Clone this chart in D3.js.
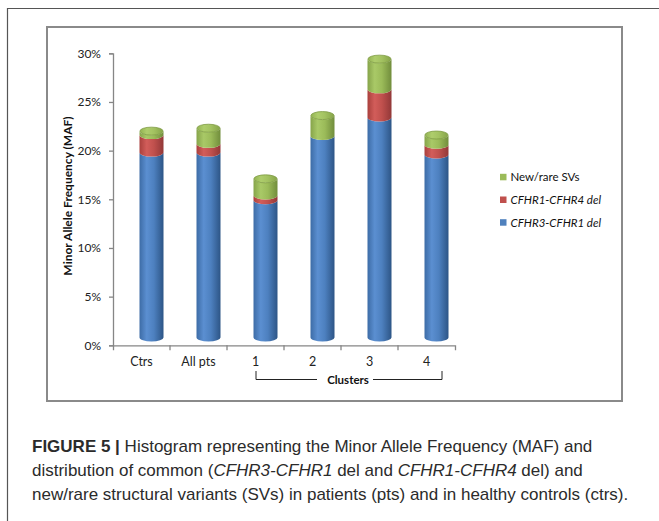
<!DOCTYPE html>
<html>
<head>
<meta charset="utf-8">
<script src="https://cdn.jsdelivr.net/npm/d3@7"></script>
<style>
  body { margin: 0; background: #fff; }
  svg { display: block; }
</style>
</head>
<body>
<div class="chart"></div>
<script>
// values (percent MAF)
const categories = ["Ctrs", "All pts", "1", "2", "3", "4"];
const cfhr3Cfhr1 = [19.0, 19.0, 14.1, 20.7, 22.6, 18.8];
const cfhr1Cfhr4 = [1.8, 0.9, 0.5, 0, 2.9, 1.0];
const newRare = [0.4, 1.6, 1.7, 2.1, 3.1, 1.0];
const yTicks = [0, 5, 10, 15, 20, 25, 30];
const legendLabels = ["New/rare SVs", "CFHR1-CFHR4 del", "CFHR3-CFHR1 del"];

const W = 659, H = 521;
let svg = d3.select(".chart").append("svg")
            .attr("width", W)
            .attr("height", H)

// frames
svg.append("path")
   .attr("d", "M7.5," + H + "V8.5H" + W)
   .attr("fill", "none")
   .attr("stroke", "#555")
   .attr("stroke-width", 1.2)
svg.append("rect")
   .attr("x", 47).attr("y", 27)
   .attr("width", 575).attr("height", 374)
   .attr("fill", "none")
   .attr("stroke", "#8a8a8a")
   .attr("stroke-width", 2)

let x_scale = d3.scaleBand()
                .domain(categories)
                .range([113, 455])
let y_scale = d3.scaleLinear()
                .domain([0, 30])
                .range([345.3, 53.3])
// 3d depth: bars sit back from the front axis
const dx = 10, dy = -7.8;
let y_bar = y_scale.copy().range(y_scale.range().map(v => v + dy));

// gradients
let defs = svg.append("defs");
const palette = {
    blue:  ["#3d6ca6", "#5b8fd1", "#4d80bf", "#2d5586"],
    red:   ["#a9403d", "#d25d5a", "#c0504d", "#923838"],
    green: ["#86a44a", "#a9c967", "#9bbb59", "#718d3c"],
    top:   ["#93b352", "#aecd6c", "#a3c261", "#86a449"]
};
Object.keys(palette).forEach(k => {
    let g = defs.append("linearGradient").attr("id", "g-" + k)
                .attr("x1", 0).attr("x2", 1).attr("y1", 0).attr("y2", 0);
    [0, 0.3, 0.6, 1].forEach((o, i) => {
        g.append("stop").attr("offset", o).attr("stop-color", palette[k][i]);
    });
});

// axes
let y_axis = d3.axisLeft(y_scale)
               .tickValues(yTicks)
               .tickFormat(d => d + "%")
               .tickSize(4)
               .tickPadding(8)
let gy = svg.append("g").call(y_axis).attr("transform", "translate(113,0)")
gy.selectAll("text").attr("font-family", "Lato").attr("font-size", 12).attr("fill", "#222")

let x_axis = d3.axisBottom(x_scale)
               .tickSizeInner(0)
               .tickSizeOuter(5)
               .tickPadding(12)
let gx = svg.append("g").call(x_axis).attr("transform", "translate(0,345.3)")
gx.selectAll("text").attr("font-family", "Lato").attr("font-size", 12.5).attr("fill", "#222")
categories.slice(1).forEach(c => {
    gx.append("line")
      .attr("x1", x_scale(c)).attr("x2", x_scale(c))
      .attr("y1", 0).attr("y2", 5)
      .attr("stroke", "currentColor")
});
svg.selectAll(".domain, .tick line").attr("stroke", "#868686").attr("stroke-width", 1.3)
gx.selectAll("line").attr("stroke", "#868686").attr("stroke-width", 1.3)

// cylinders
let rows = categories.map((c, i) => ({cat: c, blue: cfhr3Cfhr1[i], red: cfhr1Cfhr4[i], green: newRare[i]}));
let stack = d3.stack().keys(["blue", "red", "green"])(rows);
const rx = 12, ry = 4;
function seg(cx, a, b){
    return "M" + (cx - rx) + "," + a +
           "A" + rx + " " + ry + " 0 0 0 " + (cx + rx) + "," + a +
           "L" + (cx + rx) + "," + b +
           "A" + rx + " " + ry + " 0 0 1 " + (cx - rx) + "," + b + "Z";
}
stack.forEach(layer => {
    svg.append("g").selectAll("path")
       .data(layer.filter(d => d[1] > d[0]))
       .join("path")
       .attr("d", d => {
           let cx = x_scale(d.data.cat) + x_scale.bandwidth() / 2 + dx;
           return seg(cx, y_bar(d[1]), y_bar(d[0]));
       })
       .attr("fill", "url(#g-" + layer.key + ")")
});
svg.append("g").selectAll("ellipse")
   .data(rows)
   .join("ellipse")
   .attr("cx", d => x_scale(d.cat) + x_scale.bandwidth() / 2 + dx)
   .attr("cy", d => y_bar(d.blue + d.red + d.green))
   .attr("rx", rx - 0.4)
   .attr("ry", ry)
   .attr("fill", "url(#g-top)")
   .attr("stroke", "#7e9a43")
   .attr("stroke-width", 0.8)

// y title
svg.append("text")
   .attr("transform", "translate(72,196) rotate(-90)")
   .attr("text-anchor", "middle")
   .attr("font-family", "Lato")
   .attr("font-weight", "bold")
   .attr("font-size", 12)
   .attr("fill", "#111")
   .text("Minor Allele Frequency  (MAF)")

// clusters bracket
svg.append("path")
   .attr("d", "M256,371V379.5H317M373,379.5H442V371")
   .attr("fill", "none")
   .attr("stroke", "#222")
   .attr("stroke-width", 1)
svg.append("text")
   .attr("x", 348).attr("y", 383.5)
   .attr("text-anchor", "middle")
   .attr("font-family", "Lato")
   .attr("font-weight", "bold")
   .attr("font-size", 11.5)
   .attr("fill", "#111")
   .text("Clusters")

// legend
const legendColors = ["#9bbb59", "#c0504d", "#4f81bd"];
let lg = svg.append("g").selectAll("g")
            .data(legendLabels)
            .join("g")
            .attr("transform", (d, i) => "translate(500," + (177.3 + i * 22.7) + ")")
lg.append("rect")
  .attr("x", 0).attr("y", -3.5)
  .attr("width", 6.5).attr("height", 6.5)
  .attr("fill", (d, i) => legendColors[i])
lg.append("text")
  .attr("x", 10.5).attr("y", 4)
  .attr("font-family", "Lato")
  .attr("font-size", 11.5)
  .attr("font-style", (d, i) => i == 0 ? "normal" : "italic")
  .attr("fill", "#111")
  .text(d => d)

// caption
const caption = [
    [["FIGURE 5 | ", "bold", "normal"], ["Histogram representing the Minor Allele Frequency (MAF) and", "normal", "normal"]],
    [["distribution of common (", "normal", "normal"], ["CFHR3-CFHR1", "normal", "italic"], [" del and ", "normal", "normal"], ["CFHR1-CFHR4", "normal", "italic"], [" del) and", "normal", "normal"]],
    [["new/rare structural variants (SVs) in patients (pts) and in healthy controls (ctrs).", "normal", "normal"]]
];
caption.forEach((line, i) => {
    let t = svg.append("text")
               .attr("x", 32).attr("y", 452 + i * 24)
               .attr("font-family", "Liberation Sans")
               .attr("font-size", 17)
               .attr("fill", "#2b2b2b")
    line.forEach(p => {
        t.append("tspan").attr("font-weight", p[1]).attr("font-style", p[2]).text(p[0]);
    });
});
</script>
</body>
</html>
